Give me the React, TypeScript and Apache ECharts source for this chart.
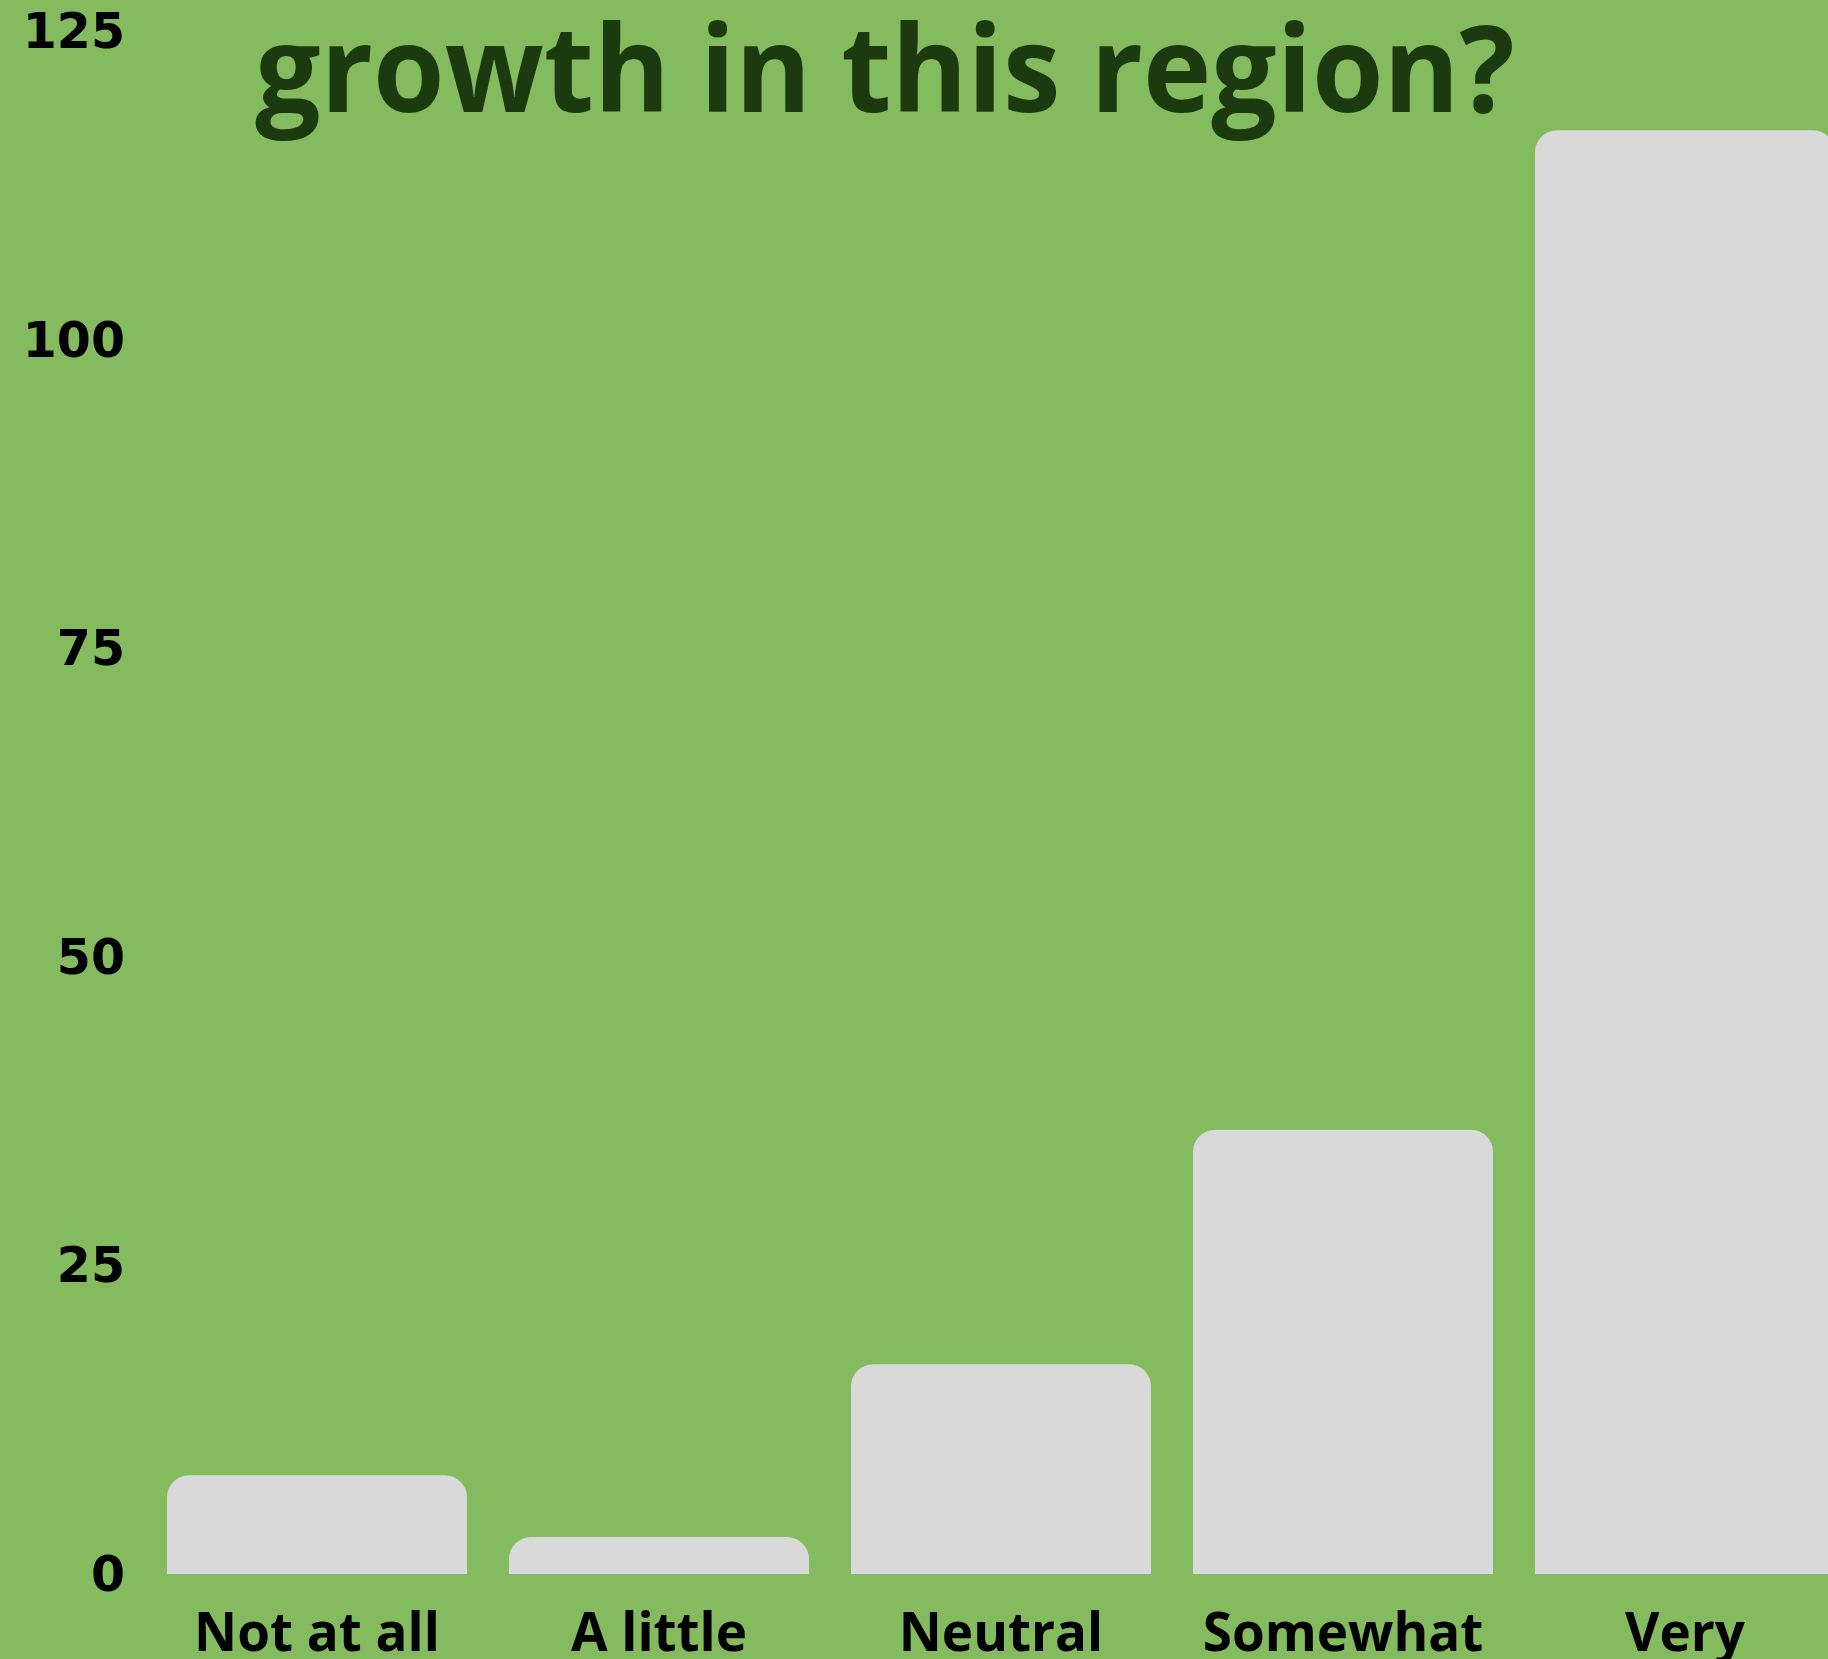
import React, { useEffect, useRef } from "react";
import * as echarts from "echarts";

const titleText = "growth in this region?";
const categories = ["Not at all", "A little", "Neutral", "Somewhat", "Very"];
const values = [8, 3, 17, 36, 117];
const yMin = 0;
const yMax = 125;
const yInterval = 25;

export default function App() {
  const ref = useRef<HTMLDivElement>(null);
  useEffect(() => {
    if (!ref.current) return;
    const chart = echarts.init(ref.current, null, { renderer: "svg" });
    chart.setOption({
      animation: false,
      backgroundColor: "#85BB5F",
      grid: { left: 146, right: 0, top: 31.5, bottom: 85, containLabel: false },
      xAxis: {
        type: "category",
        data: categories,
        axisLine: { show: false },
        axisTick: { show: false },
        axisLabel: {
          interval: 0,
          color: "#000000",
          fontFamily: "Open Sans",
          fontWeight: 700,
          fontSize: 53,
          lineHeight: 53,
          margin: 30,
        },
      },
      yAxis: {
        type: "value",
        min: yMin,
        max: yMax,
        interval: yInterval,
        splitLine: { show: false },
        axisLine: { show: false },
        axisTick: { show: false },
        axisLabel: {
          color: "#000000",
          fontFamily: "DejaVu Sans",
          fontWeight: 700,
          fontSize: 49,
          margin: 21,
        },
      },
      series: [
        {
          type: "bar",
          data: values,
          barWidth: 300,
          itemStyle: { color: "#D9D9D9", borderRadius: [22, 22, 0, 0] },
        },
      ],
      graphic: [
        {
          type: "text",
          x: 885,
          y: 66,
          scaleX: 0.964,
          originX: 0,
          style: {
            text: titleText,
            fill: "#1B3A0F",
            font: "700 120px 'Open Sans'",
            textAlign: "center",
            textVerticalAlign: "middle",
          },
        },
      ],
    });
    return () => chart.dispose();
  }, []);
  return (
    <div style={{ position: "absolute", left: 0, top: 0, width: 1828, height: 1659, overflow: "hidden" }}>
      <div ref={ref} style={{ width: 1856, height: 1659 }} />
    </div>
  );
}
